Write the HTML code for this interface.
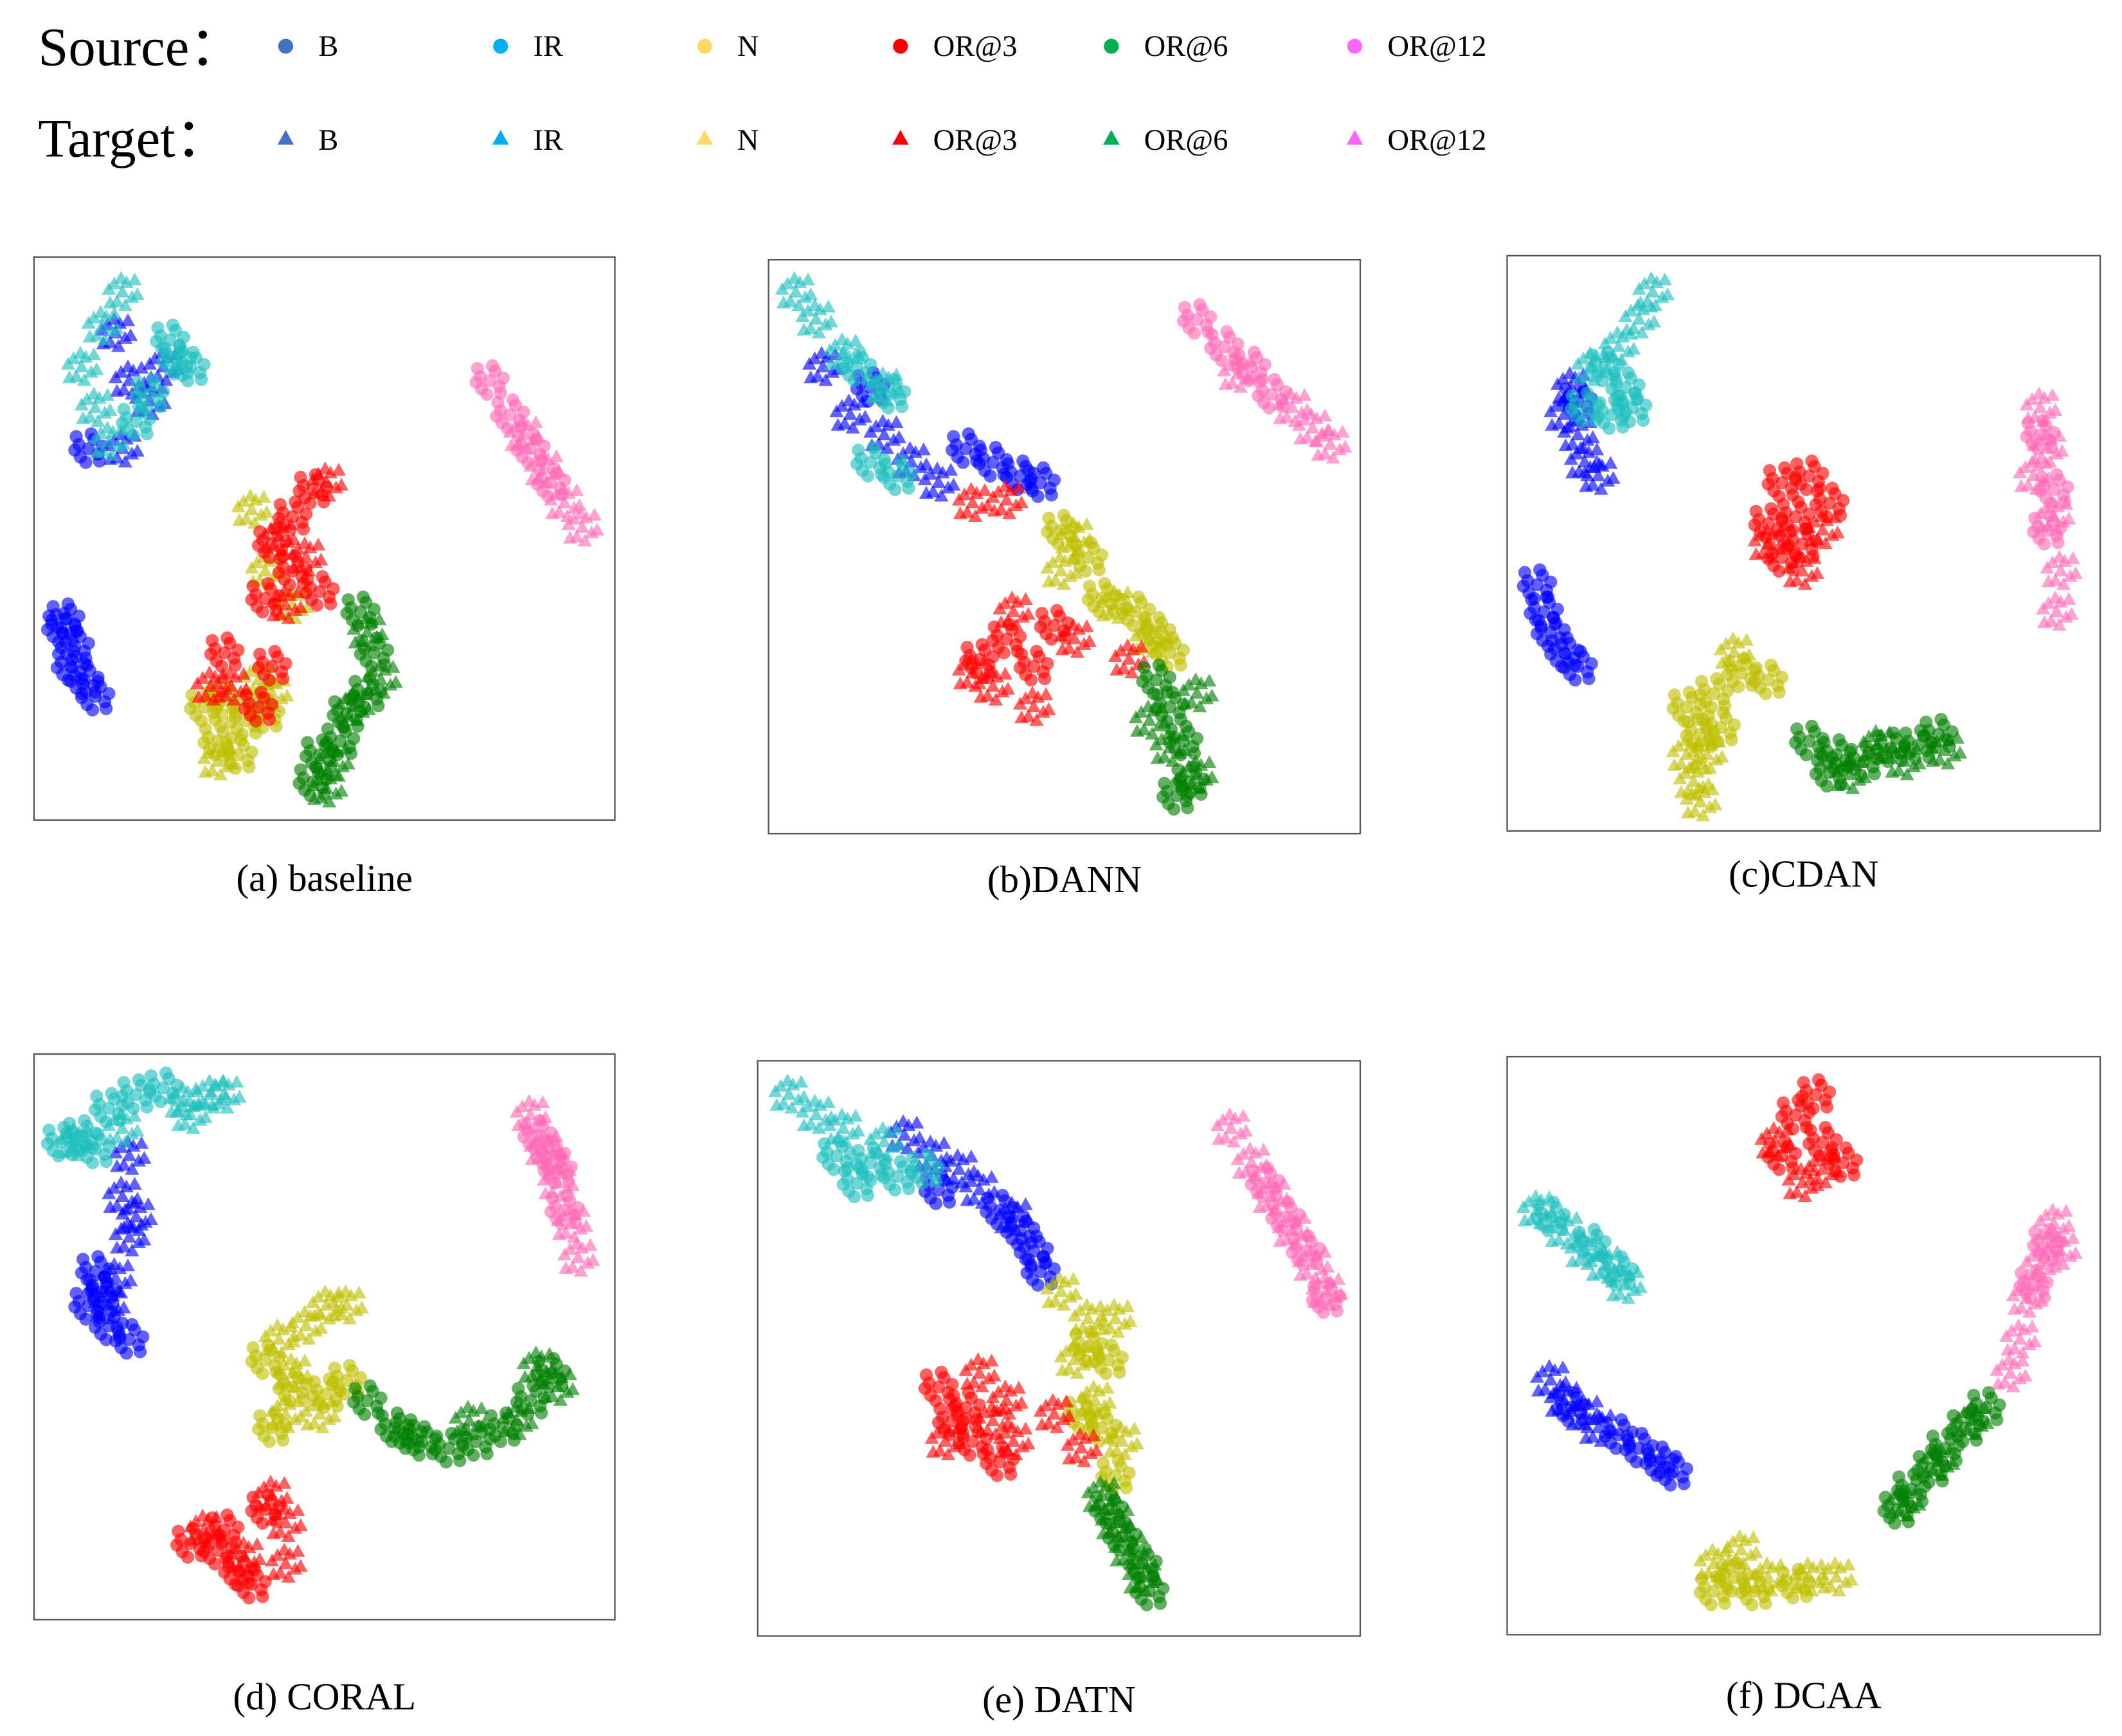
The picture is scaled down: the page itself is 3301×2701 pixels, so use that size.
<!DOCTYPE html>
<html><head><meta charset="utf-8"><style>html,body{margin:0;padding:0;background:#fff}svg{display:block}</style></head>
<body>
<svg id="chart" width="3301" height="2701" viewBox="0 0 1560 1276.5" xmlns="http://www.w3.org/2000/svg" font-family="'Liberation Serif', serif">
<rect width="1560" height="1276.5" fill="#fff"/>
<g>
<text x="28" y="48" font-size="40">Source：</text>
<text x="28" y="115" font-size="40">Target：</text>
</g>
<g id="legendItems"></g>
<g id="panels"></g>
</svg>
<script>
const classNames = ['B','IR','N','OR@3','OR@6','OR@12'];
const legendColors = ['#4472c4','#00b0f0','#ffd966','#ff0000','#00b050','#ff66ff'];
const scatterColors = ['#0000ff','#1fbfbf','#bfbf00','#ff0000','#008000','#ff69b4'];
const panelTitles = ['(a) baseline','(b)DANN','(c)CDAN','(d) CORAL','(e) DATN','(f) DCAA'];
// each panel's t-SNE axis limits [xmin,xmax,ymin,ymax]
const panelLimits = [[25,452,189,603],[565,1000,191,613],[1108,1544,188,611],[25,452,775,1191],[557,1000,780,1203],[1108,1544,777,1202]];
// source (circles) and target (triangles) embedded sample anchors per panel, per class [B, IR, N, OR@3, OR@6, OR@12]
const srcA = [
 [[[65,330],[48,455],[55,475],[52,490],[62,500],[70,512],[45,462]],[[130,265],[110,290],[140,270],[100,310],[125,250]],[[150,520],[165,515],[180,530],[160,545],[175,555],[195,525]],[[230,360],[215,380],[200,400],[215,420],[235,435],[195,440],[165,480],[200,490],[190,520]],[[265,450],[275,480],[270,510],[255,525],[250,545],[235,555],[230,575]],[[360,280],[375,305],[390,330],[405,355]]],
 [[[710,330],[730,340],[750,350],[765,355],[640,285]],[[630,270],[655,290],[660,350],[640,340]],[[780,390],[800,410],[810,440],[835,450],[850,465],[860,480]],[[720,485],[740,470],[760,490],[775,460]],[[850,500],[860,520],[870,545],[875,575],[865,585]],[[880,235],[900,255],[920,270],[935,290]]],
 [[[1160,295],[1130,430],[1135,450],[1140,465],[1150,480],[1160,490]],[[1180,270],[1195,285],[1200,300],[1185,305],[1165,300]],[[1240,520],[1260,510],[1280,495],[1300,500],[1250,540],[1265,535]],[[1310,355],[1330,350],[1345,370],[1320,380],[1300,385],[1325,400],[1310,410]],[[1330,545],[1350,555],[1370,560],[1390,550],[1410,548],[1425,540],[1345,568]],[[1500,320],[1510,360],[1505,390]]],
 [[[70,935],[65,960],[80,975],[95,985],[75,950]],[[45,840],[60,835],[80,815],[100,805],[120,800],[70,845]],[[195,1000],[215,1020],[240,1025],[255,1015],[200,1050]],[[140,1135],[160,1140],[175,1155],[185,1165],[165,1125],[195,1110]],[[270,1030],[290,1050],[310,1060],[330,1065],[350,1060],[370,1050],[390,1030],[405,1010],[300,1055]],[[395,835],[410,860],[415,890],[405,850]]],
 [[[735,890],[750,905],[760,920],[765,935],[690,875]],[[615,850],[640,855],[660,865],[680,860],[630,870]],[[800,990],[815,1000],[810,1050],[820,1085],[795,1040]],[[690,1020],[700,1045],[715,1060],[735,1075],[710,1035]],[[825,1130],[840,1150],[845,1170],[815,1110]],[[930,870],[945,895],[960,920],[975,955]]],
 [[[1190,1055],[1205,1065],[1220,1075],[1230,1082],[1155,1035]],[[1140,895],[1170,915],[1190,935]],[[1260,1170],[1275,1160],[1320,1165],[1290,1170]],[[1335,805],[1320,820],[1340,840],[1310,850],[1355,855]],[[1460,1035],[1445,1050],[1430,1065],[1420,1080],[1405,1095],[1395,1110]],[[1505,915],[1495,945]]]
];
const tgtA = [
 [[[85,245],[95,280],[120,270],[110,295],[90,330]],[[90,215],[75,240],[60,270],[70,300],[80,325]],[[190,500],[200,510],[160,560],[185,375],[195,420],[215,445]],[[240,355],[205,395],[225,410],[210,445],[155,505],[170,505]],[[270,465],[280,500],[260,520],[245,560],[240,580]],[[385,320],[400,345],[415,370],[428,388]]],
 [[[605,270],[625,305],[650,320],[670,340],[690,355]],[[585,215],[600,235],[620,260],[650,285]],[[790,395],[780,420],[820,445],[845,470]],[[745,450],[730,505],[760,520],[790,470],[715,495],[715,370],[740,368],[830,485]],[[845,530],[860,550],[880,570],[880,510]],[[950,300],[965,315],[978,327],[910,275]]],
 [[[1155,285],[1150,305],[1160,320],[1165,340],[1175,350]],[[1215,215],[1205,235],[1190,255],[1170,270]],[[1275,480],[1255,555],[1245,575],[1250,590],[1240,555]],[[1300,400],[1340,390],[1325,420]],[[1360,570],[1400,560],[1430,552],[1380,548]],[[1500,300],[1505,330],[1495,350],[1510,380],[1515,420],[1512,450]]],
 [[[95,850],[90,880],[95,910],[85,940],[80,960],[100,895]],[[55,840],[90,830],[135,810],[155,805],[165,805],[140,820]],[[240,960],[255,960],[225,975],[205,985],[215,1010],[235,1040],[210,1040]],[[200,1100],[210,1120],[210,1150],[150,1125],[180,1145]],[[380,1045],[395,1005],[410,1020],[345,1045]],[[390,820],[400,845],[410,870],[420,900],[425,925]]],
 [[[665,835],[685,850],[705,860],[720,875],[745,895]],[[580,805],[600,820],[620,830],[650,840]],[[780,950],[800,970],[820,970],[790,1000],[805,1030],[825,1060]],[[720,1010],[740,1030],[745,1060],[695,1060],[730,1045],[775,1040],[795,1065]],[[810,1100],[820,1120],[830,1140],[840,1160]],[[905,830],[920,855],[935,880],[950,905],[965,930],[975,950]]],
 [[[1140,1015],[1150,1030],[1165,1040],[1175,1050]],[[1130,890],[1150,905],[1165,920],[1180,930],[1195,945]],[[1260,1150],[1280,1140],[1300,1160],[1330,1160],[1350,1160]],[[1325,870],[1340,860],[1305,840]],[[1450,1045],[1425,1075],[1400,1105]],[[1510,900],[1500,930],[1490,955],[1485,985],[1478,1010],[1515,920]]]
];
const captionY = [655,656,652,1257,1259,1256];
const jitter = [[0,0],[7,4],[-6,6],[4,-7],[-7,-3],[10,-2],[-2,10],[-10,1],[2,-11],[8,9],[-9,-9]];

const NS='http://www.w3.org/2000/svg';
function mk(tag,attrs,parent){const e=document.createElementNS(NS,tag);for(const k in attrs)e.setAttribute(k,attrs[k]);parent.appendChild(e);return e;}
function scaleLinear(d0,d1,r0,r1){return v=>r0+(v-d0)/(d1-d0)*(r1-r0);}
function tri(cx,cy,s){const h=s*0.9;return `${cx},${cy-h*0.6} ${cx-s/2},${cy+h*0.4} ${cx+s/2},${cy+h*0.4}`;}

const lg=document.getElementById('legendItems');
const legendX=[210,368,518,662,817,996];
classNames.forEach((n,i)=>{
  const c=mk('circle',{cx:legendX[i],cy:34,r:5.5,fill:legendColors[i]},lg);
  
  
  const t1=mk('text',{x:legendX[i]+24,y:41,'font-size':22},lg);t1.textContent=n;
  
  
  const p=mk('polygon',{points:tri(legendX[i],102,12),fill:legendColors[i]},lg);
  
  
  const t2=mk('text',{x:legendX[i]+24,y:110,'font-size':22},lg);t2.textContent=n;
  
  
});

const root=document.getElementById('panels');
panelLimits.forEach((L,p)=>{
  const g=mk('g',{},root);
  
  
  const box=mk('rect',{x:L[0],y:L[2],width:L[1]-L[0],height:L[3]-L[2],fill:'none',stroke:'#555','stroke-width':1.1},g);
  
  
  const sx=scaleLinear(L[0],L[1],L[0],L[1]);
  const sy=scaleLinear(L[2],L[3],L[2],L[3]);
  for(let c=0;c<6;c++){
    srcA[p][c].forEach(pt=>{jitter.forEach(j=>{
      const e=mk('circle',{cx:sx(pt[0]+j[0]),cy:sy(pt[1]+j[1]),r:4.8,fill:scatterColors[c],'fill-opacity':0.62},g);
      
      
    });});
    tgtA[p][c].forEach(pt=>{jitter.forEach(j=>{
      const e=mk('polygon',{points:tri(sx(pt[0]-j[1]),sy(pt[1]+j[0]),10.5),fill:scatterColors[c],'fill-opacity':0.62},g);
      
      
    });});
  }
  const t=mk('text',{x:(L[0]+L[1])/2,y:captionY[p],'font-size':28,'text-anchor':'middle'},g);
  t.textContent=panelTitles[p];
  
  
});
</script>
</body></html>
